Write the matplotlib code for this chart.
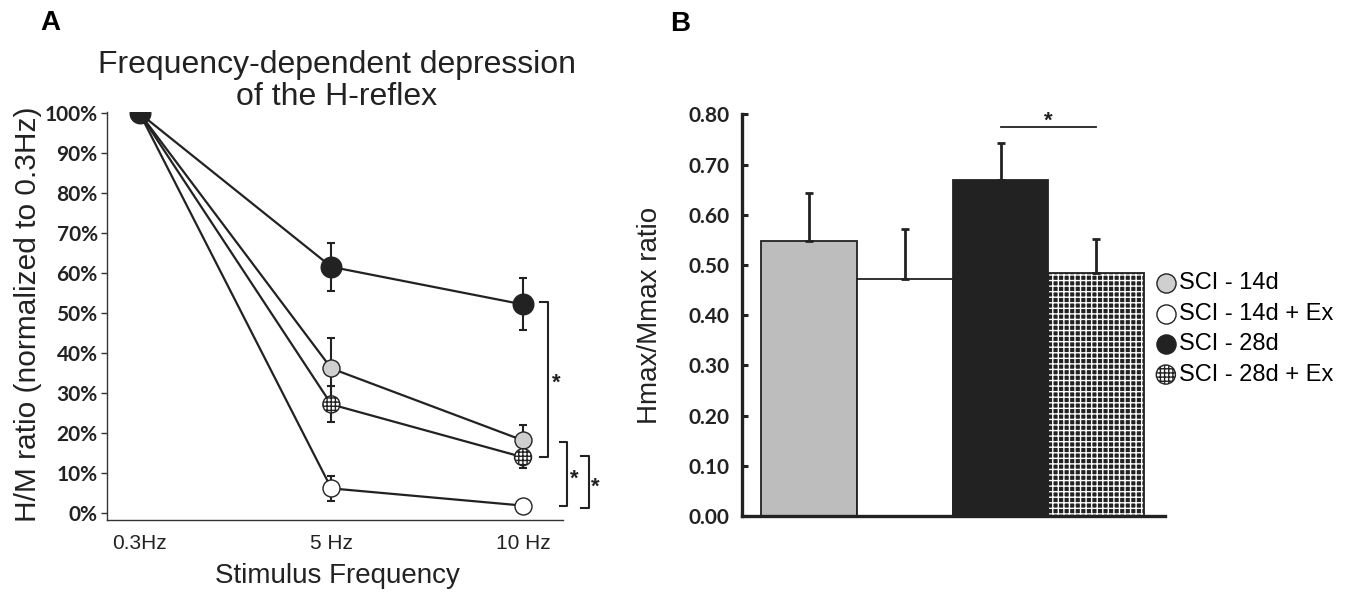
import matplotlib
matplotlib.use("Agg")
import matplotlib.pyplot as plt
from matplotlib.collections import PathCollection
from matplotlib.legend_handler import HandlerPathCollection
import numpy as np

# ---------------- data ----------------
freq_labels = ['0.3Hz', '5 Hz', '10 Hz']
groups = ['SCI - 14d', 'SCI - 14d + Ex', 'SCI - 28d', 'SCI - 28d + Ex']

hm_14d = [100, 36.2, 18.2]
hm_14d_err = [0, 7.7, 3.9]
hm_14d_ex = [100, 6.2, 1.9]
hm_14d_ex_err = [0, 3.2, 0.8]
hm_28d = [100, 61.6, 52.2]
hm_28d_err = [0, 6.0, 6.5]
hm_28d_ex = [100, 27.2, 14.0]
hm_28d_ex_err = [0, 4.5, 2.6]

hmax_ratio = [0.548, 0.472, 0.669, 0.484]
hmax_sem = [0.095, 0.100, 0.074, 0.067]

# ---------------- styling ----------------
W, H = 1349, 592
DARK = '#222222'
GRAY_A = '#cfcfcf'
GRAY_B = '#bdbdbd'
TXT = 'Liberation Sans'
TICKF = 'Lato'

plt.rcParams['hatch.linewidth'] = 1.0
fig = plt.figure(figsize=(W / 100, H / 100), dpi=100)

def fx(px):
    return px / W

def fy(py):
    return 1 - py / H

# ---------------- Panel A ----------------
axA = fig.add_axes([fx(106.7), fy(520), fx(563.3) - fx(106.7), fy(111.7) - fy(520)])
x = np.arange(len(freq_labels))

series = [
    (hm_14d, hm_14d_err, GRAY_A, None, 150, groups[0]),
    (hm_14d_ex, hm_14d_ex_err, 'white', None, 150, groups[1]),
    (hm_28d_ex, hm_28d_ex_err, 'white', '++++', 150, groups[3]),
    (hm_28d, hm_28d_err, DARK, None, 220, groups[2]),
]
handles = {}
for k, (vals, errs, fc, hatch, s, lab) in enumerate(series):
    axA.errorbar(x, vals, yerr=errs, color=DARK, lw=1.6, elinewidth=1.5,
                 capsize=3, capthick=1.5, zorder=2)
    plt.rcParams['hatch.color'] = '#444444'
    sc = axA.scatter(x, vals, s=s, facecolor=fc, edgecolor=DARK,
                     linewidth=1.0, hatch=hatch, zorder=3 + k, label=lab)
    handles[lab] = sc

axA.set_xlim(-0.172, 2.21)
axA.set_ylim(-1.7, 100.4)
axA.set_yticks(np.arange(0, 101, 10))
axA.set_yticklabels([f'{v}%' for v in range(0, 101, 10)])
axA.set_xticks(x)
axA.set_xticklabels(freq_labels)
for sp in ['top', 'right']:
    axA.spines[sp].set_visible(False)
for sp in ['left', 'bottom']:
    axA.spines[sp].set_linewidth(1.0)
    axA.spines[sp].set_color('#333333')
axA.tick_params(axis='y', direction='out', length=4, width=1.0, color='#333333',
                pad=2.5, labelsize=15, labelcolor=DARK)
axA.tick_params(axis='x', length=0, pad=10, labelsize=15, labelcolor=DARK)
for t in axA.get_yticklabels():
    t.set_fontfamily(TICKF)
    t.set_fontweight('bold')
for t in axA.get_xticklabels():
    t.set_fontfamily(TXT)

# significance brackets (panel A)
def bracket(ax, x0, x1, y0, y1, xs, ys):
    ax.plot([x0, x1, x1, x0], [y0, y0, y1, y1], color=DARK, lw=1.5,
            clip_on=False, zorder=5)
    ax.text(xs, ys, '*', ha='center', va='center', fontsize=16,
            fontweight='bold', color=DARK, family=TXT, clip_on=False)

bracket(axA, 2.090, 2.130, 52.7, 14.0, 2.172, 32.5)
bracket(axA, 2.191, 2.231, 17.9, 1.7, 2.269, 8.5)
bracket(axA, 2.304, 2.344, 14.2, 1.25, 2.379, 6.5)

fig.text(fx(336.5), fy(81), 'Frequency-dependent depression\nof the H-reflex',
         ha='center', va='center', fontsize=23, family=TXT, color=DARK,
         linespacing=1.05)
fig.text(fx(28), fy(314), 'H/M ratio (normalized to 0.3Hz)', rotation=90,
         ha='center', va='center', fontsize=21.5, family=TXT, color=DARK)
fig.text(fx(337), fy(576), 'Stimulus Frequency', ha='center', va='center',
         fontsize=20, family=TXT, color=DARK)
fig.text(fx(50), fy(23), 'A', ha='center', va='center', fontsize=20,
         fontweight='bold', family=TXT, color='black')

# ---------------- Panel B ----------------
axB = fig.add_axes([fx(741.7), fy(516), fx(1165) - fx(741.7), fy(114.3) - fy(516)])
xb = np.arange(len(groups))
bar_fc = [GRAY_B, 'white', DARK, DARK]

# hatched fill for the last bar (white grid on dark)
plt.rcParams['hatch.color'] = 'white'
axB.bar(xb[3:], hmax_ratio[3:], width=1.0, color=DARK, edgecolor='white',
        linewidth=0, hatch='+++', zorder=2)
axB.bar(xb[:3], hmax_ratio[:3], width=1.0, color=bar_fc[:3], edgecolor=DARK,
        linewidth=1.3, zorder=2)
axB.bar(xb[3:], hmax_ratio[3:], width=1.0, color='none', edgecolor=DARK,
        linewidth=1.3, zorder=3)
axB.errorbar(xb, hmax_ratio, yerr=[np.zeros(len(xb)), hmax_sem], fmt='none',
             ecolor=DARK, elinewidth=2.0, capsize=3, capthick=2.0, zorder=4)

axB.plot([2, 3], [0.774, 0.774], color=DARK, lw=1.3)
axB.text(2.5, 0.786, '*', ha='center', va='center', fontsize=16,
         fontweight='bold', color=DARK, family=TXT)

axB.set_xlim(-0.706, 3.72)
axB.set_ylim(0, 0.8)
axB.set_xticks([])
axB.set_yticks(np.arange(0, 0.81, 0.1))
axB.set_yticklabels([f'{v:.2f}' for v in np.arange(0, 0.81, 0.1)])
for sp in ['top', 'right']:
    axB.spines[sp].set_visible(False)
for sp in ['left', 'bottom']:
    axB.spines[sp].set_linewidth(2.4)
    axB.spines[sp].set_color(DARK)
axB.tick_params(axis='y', direction='in', length=4, width=2.2, color=DARK,
                pad=9, labelsize=15, labelcolor=DARK)
for t in axB.get_yticklabels():
    t.set_fontfamily(TICKF)
    t.set_fontweight('bold')

fig.text(fx(650), fy(315), 'Hmax/Mmax ratio', rotation=90, ha='center',
         va='center', fontsize=20, family=TXT, color=DARK)
fig.text(fx(680), fy(24), 'B', ha='center', va='center', fontsize=20,
         fontweight='bold', family=TXT, color='black')

# legend (uses panel A series markers)
plt.rcParams['hatch.color'] = '#444444'
leg_handles = [handles[g] for g in groups]
axB.legend(leg_handles, groups, loc='center left',
           bbox_to_anchor=(fx(1157.0), fy(329)), bbox_transform=fig.transFigure,
           frameon=False, borderpad=0, borderaxespad=0, handlelength=0.75,
           handletextpad=0.2, labelspacing=0.36, scatterpoints=1,
           prop={'family': TXT, 'size': 17},
           handler_map={PathCollection: HandlerPathCollection(sizes=[190])})

fig.savefig('out.png', dpi=100)
